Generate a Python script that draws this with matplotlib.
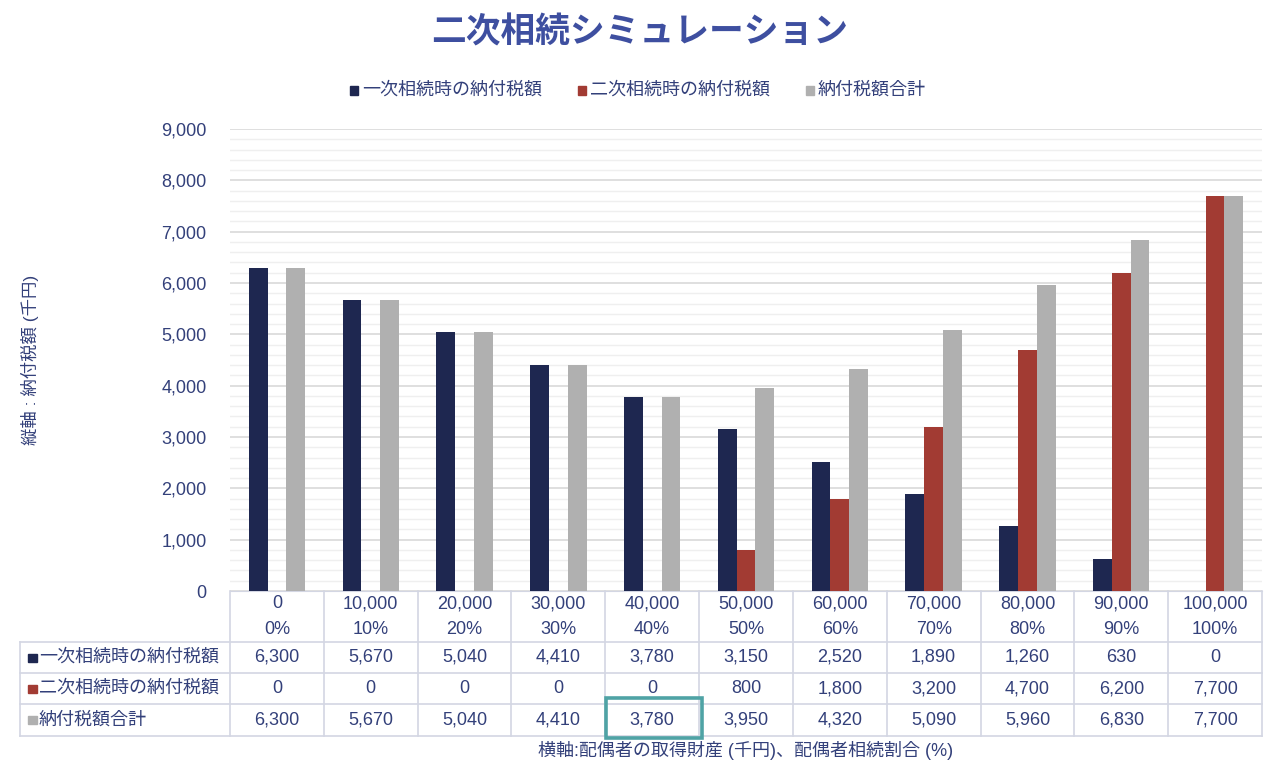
import numpy as np
import matplotlib
matplotlib.use("Agg")
import matplotlib.pyplot as plt
from matplotlib.patches import Rectangle
from matplotlib.ticker import MultipleLocator, FuncFormatter

# Latin/digits in a Helvetica-like face, CJK falls back to Noto
plt.rcParams['font.family'] = ['Liberation Sans', 'Noto Sans CJK JP', 'DejaVu Sans']

# ---- data ----
assets = [0, 10000, 20000, 30000, 40000, 50000, 60000, 70000, 80000, 90000, 100000]
ratios = ["0%", "10%", "20%", "30%", "40%", "50%", "60%", "70%", "80%", "90%", "100%"]
tax_first = [6300, 5670, 5040, 4410, 3780, 3150, 2520, 1890, 1260, 630, 0]
tax_second = [0, 0, 0, 0, 0, 800, 1800, 3200, 4700, 6200, 7700]
tax_total = [6300, 5670, 5040, 4410, 3780, 3950, 4320, 5090, 5960, 6830, 7700]
series_names = ["一次相続時の納付税額", "二次相続時の納付税額", "納付税額合計"]
highlight_col = 4  # 3,780 = minimum total

colors = ["#1E2750", "#A23B33", "#B0B0B0"]
txt = "#33407A"
grid_c = "#D9D9D9"
line_c = "#D3D6E3"
fs = 13

W, H = 1280, 769
fig = plt.figure(figsize=(W / 100, H / 100), dpi=100)

# plot area in pixels
px_l, px_r, px_t, px_b = 230, 1262, 129, 591
ax = fig.add_axes([px_l / W, 1 - px_b / H, (px_r - px_l) / W, (px_b - px_t) / H])

x = np.arange(len(assets))
bw = 0.2
series = [tax_first, tax_second, tax_total]
for i, (vals, c) in enumerate(zip(series, colors)):
    ax.bar(x + (i - 1) * bw, vals, bw, color=c, zorder=3)

ax.set_xlim(-0.5, len(assets) - 0.5)
ax.set_ylim(0, 9000)
ax.yaxis.set_major_locator(MultipleLocator(1000))
ax.yaxis.set_minor_locator(MultipleLocator(200))
ax.yaxis.set_major_formatter(FuncFormatter(lambda v, p: f"{int(v):,}"))
ax.grid(axis="y", which="major", color=grid_c, lw=1.2, zorder=0)
ax.grid(axis="y", which="minor", color="#EFEFEF", lw=1.0, zorder=0)
ax.tick_params(axis="y", which="both", length=0, labelsize=fs, labelcolor=txt, pad=17)
ax.set_xticks([])
for s in ["top", "right", "left"]:
    ax.spines[s].set_visible(False)
ax.spines["bottom"].set_color(line_c)

# ---- data table below the plot ----
tbl_l, tbl_b = 20, 738
tax_ = fig.add_axes([tbl_l / W, 1 - tbl_b / H, (px_r - tbl_l) / W, (tbl_b - px_b) / H])
unit = (px_r - px_l) / len(assets)
x0 = -0.5 - (px_l - tbl_l) / unit
tax_.set_xlim(x0, len(assets) - 0.5)
tax_.set_ylim(tbl_b, px_b)
tax_.axis("off")

row_y = [px_b, 642, 673, 704, 736]
n = len(assets)
# horizontal lines
for yy in row_y[1:]:
    tax_.plot([x0, n - 0.5], [yy, yy], color=line_c, lw=1.2, clip_on=False)
# vertical lines
for k in range(n + 1):
    tax_.plot([k - 0.5, k - 0.5], [px_b, row_y[-1]], color=line_c, lw=1.2, clip_on=False)
tax_.plot([x0, x0], [row_y[1], row_y[-1]], color=line_c, lw=1.2, clip_on=False)

# header cells
for k in range(n):
    tax_.text(k, 604, f"{assets[k]:,}", ha="center", va="center", fontsize=fs, color=txt)
    tax_.text(k, 630, ratios[k], ha="center", va="center", fontsize=fs, color=txt)

# body rows
for r, (name, vals, c) in enumerate(zip(series_names, series, colors)):
    yc = (row_y[r + 1] + row_y[r + 2]) / 2
    tax_.add_patch(Rectangle((x0 + 0.09, yc - 4), 0.09, 8, color=c, clip_on=False))
    tax_.text(x0 + 0.2, yc, name, ha="left", va="center", fontsize=fs, color=txt)
    for k in range(n):
        tax_.text(k, yc, f"{vals[k]:,}", ha="center", va="center", fontsize=fs, color=txt)

# highlight box around minimum total
tax_.add_patch(Rectangle((highlight_col - 0.49, row_y[3] - 6), 1.02, row_y[4] - row_y[3] + 8,
                         fill=False, ec="#4FA3A5", lw=2.6, clip_on=False, zorder=5))

# ---- titles / legend / axis labels ----
fig.text(0.5, 1 - 33 / H, "二次相続シミュレーション", ha="center", va="center",
         fontsize=25, fontweight="bold", color="#3E4FA0")

leg_items = [(354, series_names[0]), (582, series_names[1]), (810, series_names[2])]
for (lx, name), c in zip(leg_items, colors):
    fig.patches.append(Rectangle(((lx - 4) / W, 1 - 95 / H), 8 / W, 9 / H,
                                 transform=fig.transFigure, color=c, figure=fig))
    fig.text((lx + 8) / W, 1 - 90 / H, name, ha="left", va="center", fontsize=fs, color=txt)

fig.text(30 / W, 1 - 360 / H, "縦軸 : 納付税額 (千円)", rotation=90, ha="center", va="center",
         fontsize=12.5, color=txt)
fig.text(746 / W, 1 - 751 / H, "横軸:配偶者の取得財産 (千円)、配偶者相続割合 (%)",
         ha="center", va="center", fontsize=fs, color=txt)

fig.savefig("out.png", dpi=100, facecolor="white")
